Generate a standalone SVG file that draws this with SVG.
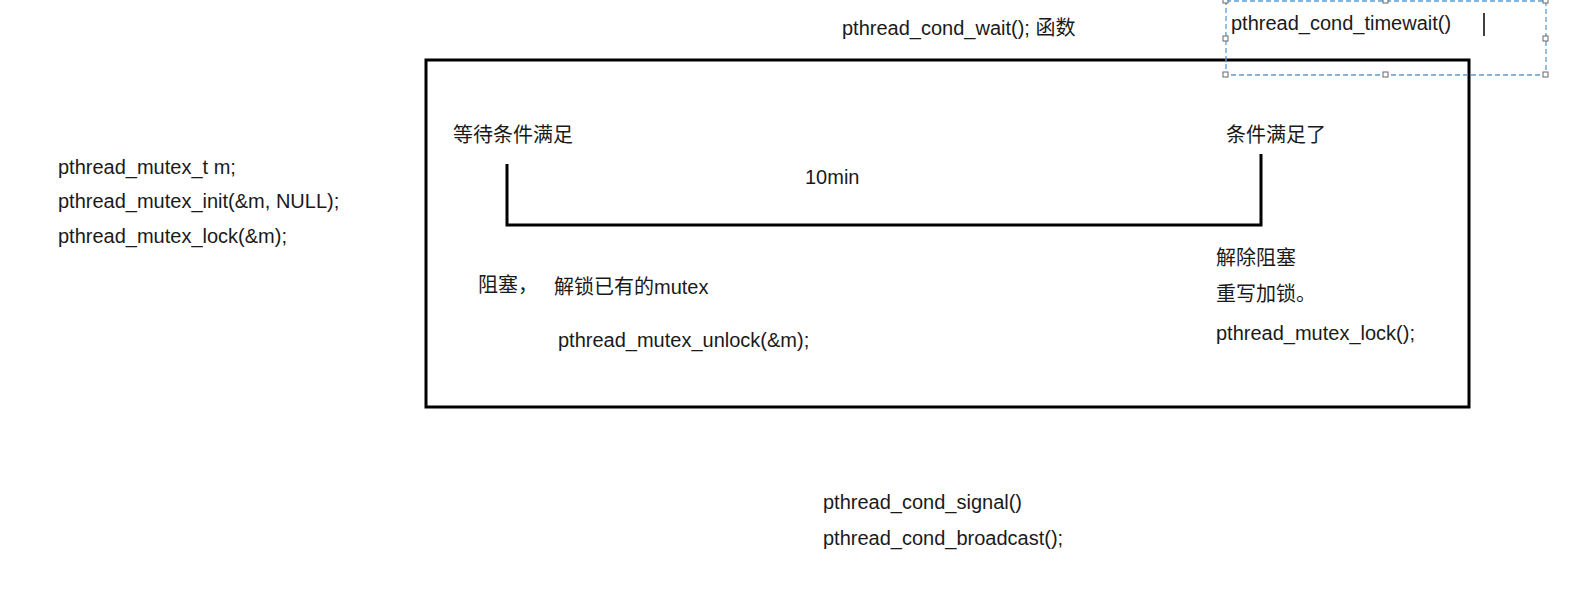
<svg xmlns="http://www.w3.org/2000/svg" width="1588" height="611" viewBox="0 0 1588 611">
<style>
text{font-family:"Liberation Sans","Noto Sans CJK SC",sans-serif;font-size:20px;fill:#1a1a1a}
.sel{fill:none;stroke:#5b9bd5;stroke-width:1.3;stroke-dasharray:5 3}
.h{fill:#fff;stroke:#666;stroke-width:1}
</style>
<rect width="1588" height="611" fill="#fff"/>
<g id="frame"><rect x="426" y="60" width="1043" height="347" fill="none" stroke="#000" stroke-width="3"/></g>
<g id="connectors">
<path d="M507 164V225H1261V154" fill="none" stroke="#000" stroke-width="3"/>
</g>
<g id="left"><text x="58" y="174">pthread_mutex_t  m;</text><text x="58" y="208">pthread_mutex_init(&amp;m, NULL);</text><text x="58" y="243">pthread_mutex_lock(&amp;m);</text></g>
<g id="title"><text x="842" y="35">pthread_cond_wait(); 函数</text></g>
<g id="timewait">
<rect class="sel" x="1226" y="1" width="320" height="74"/>
<rect class="h" x="1223" y="-2" width="5" height="5"/><rect class="h" x="1383" y="-2" width="5" height="5"/><rect class="h" x="1543" y="-2" width="5" height="5"/>
<rect class="h" x="1223" y="36" width="5" height="5"/><rect class="h" x="1543" y="36" width="5" height="5"/>
<rect class="h" x="1223" y="72" width="5" height="5"/><rect class="h" x="1383" y="72" width="5" height="5"/><rect class="h" x="1543" y="72" width="5" height="5"/>
<text x="1231" y="30">pthread_cond_timewait()</text>
<line x1="1484" y1="13" x2="1484" y2="36" stroke="#000" stroke-width="1.5"/>
</g>
<g id="wait"><text x="453" y="142">等待条件满足</text></g>
<g id="met"><text x="1226" y="142">条件满足了</text></g>
<g id="time"><text x="805" y="184">10min</text></g>
<g id="block"><text x="478" y="292">阻塞，</text><text x="554" y="294">解锁已有的mutex</text><text x="558" y="347">pthread_mutex_unlock(&amp;m);</text></g>
<g id="unblock"><text x="1216" y="265">解除阻塞</text><text x="1216" y="301">重写加锁。</text><text x="1216" y="340">pthread_mutex_lock();</text></g>
<g id="signal"><text x="823" y="509">pthread_cond_signal()</text><text x="823" y="545">pthread_cond_broadcast();</text></g>
</svg>
